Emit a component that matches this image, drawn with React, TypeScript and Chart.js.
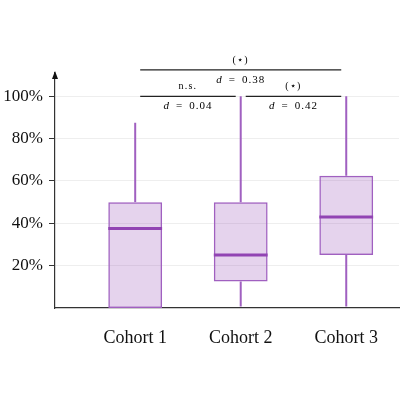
import React, { useEffect, useRef } from "react";
import { Chart, registerables } from "chart.js";

Chart.register(...registerables);

// box-plot summary per cohort (percent)
const cohorts = ["Cohort 1", "Cohort 2", "Cohort 3"];
const positions = [0, 1, 2];
const mins = [0, 0, 0];
const q1s = [0, 12.5, 25];
const medians = [37.5, 25, 43];
const q3s = [50, 50, 62.5];
const maxs = [87.5, 100, 100];

const yTicks = [20, 40, 60, 80, 100];

// significance brackets between cohorts
const pairFrom = [0, 0, 1];
const pairTo = [2, 1, 2];
const pairLevel = [112.5, 100, 100];
const pairStars = ["(⋆)", "n.s.", "(⋆)"];
const pairD = ["0.38", "0.04", "0.42"];

const PURPLE = "#a060c0";
const FONT = "'Liberation Serif', 'DejaVu Serif', serif";

const boxExtras = {
  id: "boxExtras",
  afterDatasetsDraw(chart: any) {
    const { ctx, scales, chartArea } = chart;
    const xs = scales.x;
    const ys = scales.y;
    ctx.save();

    // whiskers
    ctx.strokeStyle = PURPLE;
    ctx.lineWidth = 2;
    positions.forEach((p, i) => {
      const cx = xs.getPixelForValue(p);
      ctx.beginPath();
      ctx.moveTo(cx, ys.getPixelForValue(q3s[i]));
      ctx.lineTo(cx, ys.getPixelForValue(maxs[i]));
      if (mins[i] < q1s[i]) {
        ctx.moveTo(cx, ys.getPixelForValue(q1s[i]));
        ctx.lineTo(cx, ys.getPixelForValue(mins[i]) - 1.5);
      }
      ctx.stroke();
    });

    // medians
    const meta = chart.getDatasetMeta(0);
    ctx.strokeStyle = "#9144b3";
    ctx.lineWidth = 3;
    meta.data.forEach((bar: any, i: number) => {
      const y = ys.getPixelForValue(medians[i]);
      ctx.beginPath();
      ctx.moveTo(bar.x - bar.width / 2, y);
      ctx.lineTo(bar.x + bar.width / 2, y);
      ctx.stroke();
    });

    // arrow head on y axis
    const ax = chartArea.left;
    const top = chartArea.top;
    ctx.fillStyle = "#111";
    ctx.beginPath();
    ctx.moveTo(ax, top - 2);
    ctx.lineTo(ax - 3, top + 6);
    ctx.lineTo(ax + 3, top + 6);
    ctx.closePath();
    ctx.fill();

    // brackets
    ctx.strokeStyle = "#222";
    ctx.lineWidth = 1.2;
    ctx.fillStyle = "#000";
    ctx.textBaseline = "alphabetic";
    pairFrom.forEach((a, k) => {
      const x1 = xs.getPixelForValue(positions[a]) + 5;
      const x2 = xs.getPixelForValue(positions[pairTo[k]]) - 5;
      const y = ys.getPixelForValue(pairLevel[k]);
      ctx.beginPath();
      ctx.moveTo(x1, y);
      ctx.lineTo(x2, y);
      ctx.stroke();
      const mid = (x1 + x2) / 2;
      ctx.textAlign = "center";
      ctx.font = "10px " + FONT;
      (ctx as any).letterSpacing = "1.2px";
      ctx.fillText(pairStars[k], mid, y - 7);
      // "d = value"
      const parts = ["d", "=", pairD[k]];
      const fonts = ["italic 11px " + FONT, "11px " + FONT, "11px " + FONT];
      const gap = 6;
      (ctx as any).letterSpacing = "1px";
      const widths = parts.map((t, j) => {
        ctx.font = fonts[j];
        return ctx.measureText(t).width;
      });
      const total = widths.reduce((s, w) => s + w, 0) + gap * 2;
      let cx = mid - total / 2;
      ctx.textAlign = "left";
      parts.forEach((t, j) => {
        ctx.font = fonts[j];
        ctx.fillText(t, cx, y + 13);
        cx += widths[j] + gap;
      });
      (ctx as any).letterSpacing = "0px";
    });

    ctx.restore();
  },
};

export default function App() {
  const canvasRef = useRef<HTMLCanvasElement | null>(null);
  const chartRef = useRef<Chart | null>(null);

  useEffect(() => {
    if (!canvasRef.current) return;
    if (chartRef.current) chartRef.current.destroy();

    chartRef.current = new Chart(canvasRef.current, {
      type: "bar",
      data: {
        datasets: [
          {
            data: positions.map((p, i) => ({ x: p, y: [q1s[i], q3s[i]] })) as any,
            backgroundColor: "rgba(160, 96, 192, 0.28)",
            borderColor: PURPLE,
            borderWidth: 1.5,
            borderSkipped: false,
            categoryPercentage: 1,
            barPercentage: 0.51,
          },
        ],
      },
      options: {
        animation: false,
        responsive: true,
        maintainAspectRatio: false,
        layout: { padding: { top: 73, bottom: 42, left: 0, right: 1 } },
        plugins: {
          legend: { display: false },
          tooltip: { enabled: false },
        },
        scales: {
          x: {
            type: "linear",
            min: -0.76,
            max: 2.5,
            offset: false,
            grid: { display: false, offset: false },
            border: { color: "#333", width: 1.2 },
            afterBuildTicks: (scale: any) => {
              scale.ticks = positions.map((v) => ({ value: v }));
            },
            afterFit: (scale: any) => {
              scale.height = 50;
            },
            ticks: {
              callback: (v: any) => cohorts[positions.indexOf(Number(v))] ?? "",
              font: { family: FONT, size: 18 },
              color: "#111",
              padding: 11,
              maxRotation: 0,
              autoSkip: false,
            },
          },
          y: {
            min: 0,
            max: 111,
            grid: { color: "#eeeeee", tickColor: "#333", tickLength: 6, lineWidth: 1 },
            border: { color: "#333", width: 1.2 },
            afterBuildTicks: (scale: any) => {
              scale.ticks = yTicks.map((v) => ({ value: v }));
            },
            afterFit: (scale: any) => {
              scale.width = 55;
            },
            ticks: {
              callback: (v: any) => v + "%",
              font: { family: FONT, size: 17 },
              color: "#111",
              padding: 6,
            },
          },
        },
      },
      plugins: [boxExtras],
    });

    return () => {
      if (chartRef.current) {
        chartRef.current.destroy();
        chartRef.current = null;
      }
    };
  }, []);

  return (
    <div style={{ position: "fixed", left: 0, top: 0, width: 400, height: 400, background: "#fff" }}>
      <canvas ref={canvasRef}></canvas>
    </div>
  );
}
